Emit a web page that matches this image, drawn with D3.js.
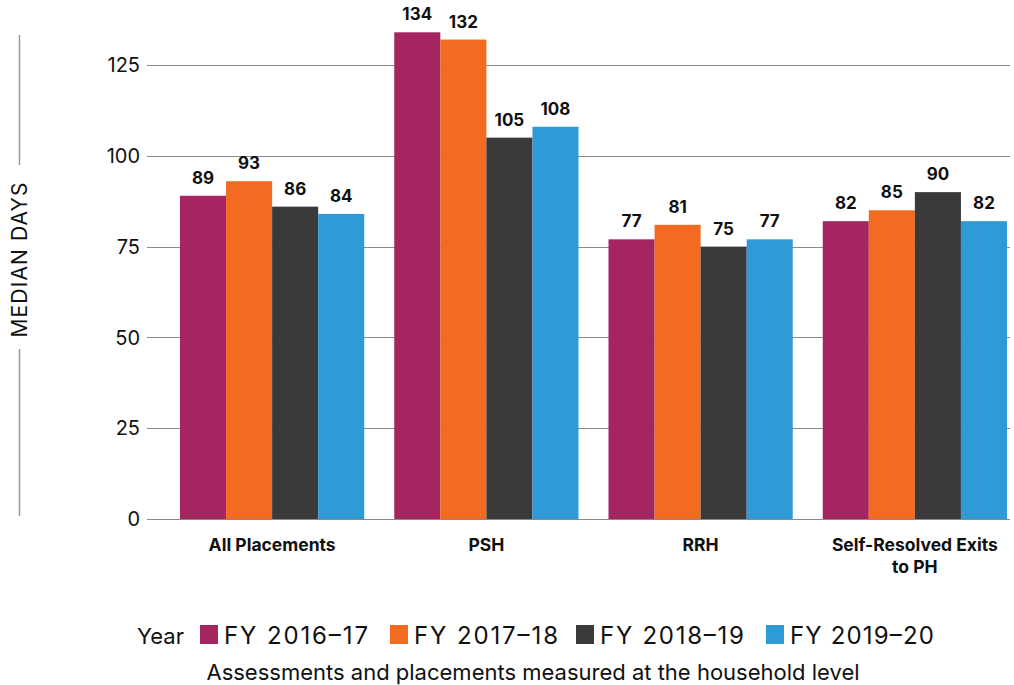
<!DOCTYPE html>
<html><head><meta charset="utf-8">
<script src="https://cdn.jsdelivr.net/npm/d3@7"></script>
<style>body{margin:0;background:#fff;} svg{display:block;font-family:Inter,"Noto Sans",sans-serif;}</style>
</head><body><svg id="c" width="1014" height="685"></svg>
<script>
const categories = ["All Placements", "PSH", "RRH", "Self-Resolved Exits\nto PH"];
const seriesNames = ["FY 2016\u201317", "FY 2017\u201318", "FY 2018\u201319", "FY 2019\u201320"];
const seriesColors = ["#A4255F", "#F26B21", "#3A3A3A", "#2F9BD6"];
const fy1617 = [89, 134, 77, 82];
const fy1718 = [93, 132, 81, 85];
const fy1819 = [86, 105, 75, 90];
const fy1920 = [84, 108, 77, 82];
const yTicks = [0, 25, 50, 75, 100, 125];
const seriesValues = [fy1617, fy1718, fy1819, fy1920];

const svg = d3.select("#c");
const x0 = d3.scaleBand().domain(categories).range([180, 1007]).paddingInner(0.14).paddingOuter(0);
const x1 = d3.scaleBand().domain(seriesNames).range([0, x0.bandwidth()]).padding(0);
const y = d3.scaleLinear().domain([0, 125]).range([519, 65]);

// gridlines
svg.append("g").selectAll("line").data(yTicks).join("line")
  .attr("x1", 147).attr("x2", 1010)
  .attr("y1", d => Math.round(y(d)) + 0.5).attr("y2", d => Math.round(y(d)) + 0.5)
  .attr("stroke", "#8a8a8a").attr("stroke-width", 1);

// tick labels
svg.append("g").selectAll("text").data(yTicks).join("text")
  .attr("x", 140).attr("y", d => y(d)).attr("dy", "0.36em")
  .attr("text-anchor", "end").attr("font-size", 20).attr("fill", "#111")
  .text(d => d);

// bars
const groups = svg.append("g").selectAll("g").data(categories).join("g")
  .attr("transform", c => `translate(${x0(c)},0)`);
groups.selectAll("rect").data((c, ci) => seriesNames.map((s, si) => ({s, si, v: seriesValues[si][ci]})))
  .join("rect")
  .attr("x", d => x1(d.s)).attr("width", x1.bandwidth())
  .attr("y", d => y(d.v)).attr("height", d => y(0) - y(d.v))
  .attr("fill", d => seriesColors[d.si]);
groups.selectAll("text.v").data((c, ci) => seriesNames.map((s, si) => ({s, si, v: seriesValues[si][ci]})))
  .join("text").attr("class", "v")
  .attr("x", d => x1(d.s) + x1.bandwidth() / 2).attr("y", d => y(d.v) - 12)
  .attr("text-anchor", "middle").attr("font-size", 17).attr("font-weight", 700).attr("fill", "#111")
  .text(d => d.v);

// category labels
svg.append("g").selectAll("text").data(categories).join("text")
  .attr("x", c => x0(c) + x0.bandwidth() / 2).attr("y", 551)
  .attr("text-anchor", "middle").attr("font-size", 17.5).attr("font-weight", 700).attr("fill", "#111")
  .each(function(c) {
    const lines = c.split("\n");
    d3.select(this).selectAll("tspan").data(lines).join("tspan")
      .attr("x", x0(c) + x0.bandwidth() / 2).attr("dy", (d, i) => i ? 22 : 0).text(d => d);
  });

// y axis title
svg.append("line").attr("x1", 19.5).attr("x2", 19.5).attr("y1", 35).attr("y2", 165).attr("stroke", "#999").attr("stroke-width", 1.5);
svg.append("line").attr("x1", 19.5).attr("x2", 19.5).attr("y1", 349).attr("y2", 516).attr("stroke", "#999").attr("stroke-width", 1.5);
svg.append("text").attr("transform", "translate(27,260) rotate(-90)")
  .attr("text-anchor", "middle").attr("font-size", 21).attr("fill", "#111")
  .attr("textLength", 155).attr("lengthAdjust", "spacing").text("MEDIAN DAYS");

// legend
const lg = svg.append("g");
lg.append("text").attr("x", 137).attr("y", 644).attr("font-size", 22).attr("fill", "#111").text("Year");
const legX = [200, 390, 576, 766];
seriesNames.forEach((s, i) => {
  lg.append("rect").attr("x", legX[i]).attr("y", 625).attr("width", 18).attr("height", 19).attr("fill", seriesColors[i]);
  lg.append("text").attr("x", legX[i] + 24).attr("y", 644).attr("font-size", 24).attr("fill", "#111")
    .attr("textLength", 144).attr("lengthAdjust", "spacing").text(s);
});
svg.append("text").attr("x", 533).attr("y", 680).attr("text-anchor", "middle").attr("font-size", 22).attr("fill", "#111")
  .text("Assessments and placements measured at the household level");
</script></body></html>
